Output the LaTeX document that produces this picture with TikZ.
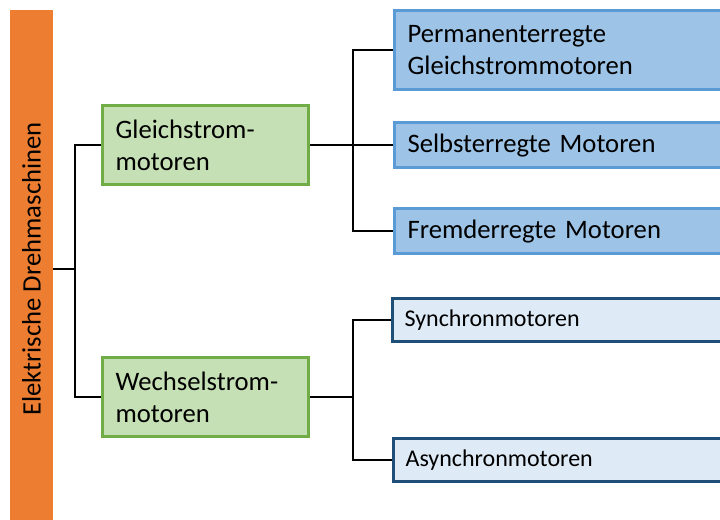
\documentclass[tikz,border=0pt]{standalone}
\usepackage{fontspec}
\setmainfont{Carlito}
\definecolor{orangebar}{HTML}{ED7D31}
\definecolor{greenfill}{HTML}{C5E0B4}
\definecolor{greenline}{HTML}{70AD47}
\definecolor{bluefill}{HTML}{9DC3E6}
\definecolor{blueline}{HTML}{5B9BD5}
\definecolor{paleblue}{HTML}{DEEBF7}
\definecolor{darkblue}{HTML}{1F4E79}

\begin{document}
\begin{tikzpicture}[x=0.75pt,y=-0.75pt,
	box/.style={rectangle,line width=2.4pt,anchor=north west,inner sep=0pt,align=left,font=\fontsize{20}{24}\selectfont},
	gruen/.style={box,fill=greenfill,draw=greenline,minimum width=154.5pt,minimum height=59.25pt,text width=135pt},
	blau/.style={box,fill=bluefill,draw=blueline,minimum width=270pt,text width=250.5pt},
	hell/.style={box,fill=paleblue,draw=darkblue,minimum width=270pt,minimum height=32.25pt,text width=252pt,font=\fontsize{18}{22}\selectfont},
	linie/.style={line width=1.5pt}]
	\useasboundingbox (0,0) rectangle (720,520);
	\clip (0,0) rectangle (720,520);
	
	\node[fill=orangebar,rotate=90,minimum width=388.5pt,minimum height=32.25pt,inner sep=0pt,font=\fontsize{20}{24}\selectfont] (elek) at (31.5,269) {Elektrische Drehmaschinen};
	
	\node[gruen] (gleich) at (101,104) {Gleichstrom-\\motoren};
	\node[gruen] (wechsel) at (101,356) {Wechselstrom-\\motoren};
	
	\node[blau,minimum height=59.25pt] (perm) at (393,9) {Permanenterregte\\Gleichstrommotoren};
	\node[blau,minimum height=33.75pt] (selbst) at (393,121) {Selbsterregte Motoren};
	\node[blau,minimum height=33.75pt] (fremd) at (393,207) {Fremderregte Motoren};
	
	\node[hell] (syn) at (391,297) {Synchronmotoren};
	\node[hell] (asyn) at (392,437) {Asynchronmotoren};
	
	\draw[linie] (elek.south) -- ++(22,0) coordinate (k0);
	\draw[linie] (gleich.west) -| (k0) |- (wechsel.west);
	
	\draw[linie] (gleich.east) -- ++(43,0) coordinate (k1);
	\draw[linie] (perm.west) -| (k1) |- (fremd.west);
	\draw[linie] (selbst.west) -| (k1);
	
	\draw[linie] (wechsel.east) -- ++(43,0) coordinate (k2);
	\draw[linie] (syn.west) -| (k2) |- (asyn.west);
\end{tikzpicture}
\end{document}
